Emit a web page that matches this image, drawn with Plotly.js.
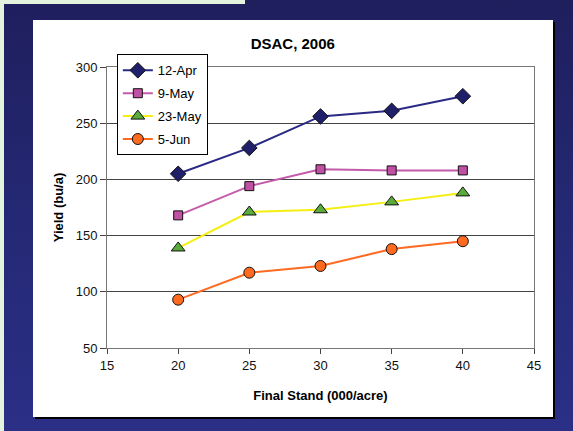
<!DOCTYPE html>
<html>
<head>
<meta charset="utf-8">
<script src="https://cdn.plot.ly/plotly-3.0.1.min.js"></script>
<style>
  html, body { margin: 0; padding: 0; }
  body { width: 573px; height: 431px; position: relative; overflow: hidden; background: #e3f3dd; }
  #navy { position: absolute; left: 4px; top: 4px; width: 569px; height: 427px;
          background: linear-gradient(to bottom, #1f1f5e 0%, #262a78 60%, #2b2f86 100%); }
  #navytop { position: absolute; left: 245px; top: 0; width: 328px; height: 4px; background: #1f1f5e; }
  #panel { position: absolute; left: 33px; top: 20px; width: 520px; height: 397px; background: #fff;
           box-shadow: 2px 2px 0 #000; }
  #chart { position: absolute; left: 0; top: 0; width: 573px; height: 431px; }
</style>
</head>
<body>
<div id="navy"></div>
<div id="navytop"></div>
<div id="panel"></div>
<div id="chart"></div>
<script>
const stand = [20, 25, 30, 35, 40];
const seriesNames = ['12-Apr', '9-May', '23-May', '5-Jun'];
const apr12 = [205, 228, 256, 261, 274];
const may9 = [168, 194, 209, 208, 208];
const may23 = [139, 171, 173, 180, 188];
const jun5 = [93, 117, 123, 138, 145];
const xTicks = [15, 20, 25, 30, 35, 40, 45];
const yTicks = [50, 100, 150, 200, 250, 300];

const styles = [
  {line: '#2a2a86', fill: '#1f1f6a', symbol: 'diamond', size: 12},
  {line: '#c45aaa', fill: '#c050a4', symbol: 'square', size: 9},
  {line: '#f5ee10', fill: '#5aac3a', symbol: 'triangle-up', size: 12},
  {line: '#ff6a22', fill: '#ff6a1e', symbol: 'circle', size: 11}
];
const values = [apr12, may9, may23, jun5];

const traces = values.map((v, i) => ({
  x: stand, y: v, name: seriesNames[i], type: 'scatter', mode: 'lines+markers',
  legendgroup: 'g' + i,
  line: {color: styles[i].line, width: 2},
  marker: {symbol: styles[i].symbol, size: styles[i].size, color: styles[i].fill,
           line: {color: '#111', width: 1}}
}));

const layout = {
  width: 573, height: 431,
  margin: {l: 107, r: 39, t: 67, b: 83},
  paper_bgcolor: 'rgba(0,0,0,0)',
  plot_bgcolor: '#ffffff',
  font: {family: 'Liberation Sans, Arial, sans-serif', size: 13, color: '#111'},
  title: {text: '<b>DSAC, 2006</b>', font: {size: 15, color: '#000'},
          xref: 'container', x: 0.511, xanchor: 'center', yref: 'container', y: 0.898, yanchor: 'middle'},
  showlegend: true,
  legend: {x: 0.023, y: 1.045, xanchor: 'left', yanchor: 'top', bgcolor: '#fff',
           bordercolor: '#000', borderwidth: 1, font: {size: 13, color: '#000'},
           tracegroupgap: 3, itemwidth: 30},
  xaxis: {
    range: [15, 45], tickvals: xTicks, ticktext: xTicks.map(String),
    showgrid: false, zeroline: false, showline: true, linecolor: '#777', linewidth: 1, mirror: true,
    ticks: 'outside', ticklen: 5, tickcolor: '#444',
    tickfont: {size: 13, color: '#111'},
    title: {text: '<b>Final Stand (000/acre)</b>', font: {size: 13, color: '#000'}, standoff: 19}
  },
  yaxis: {
    range: [50, 300], tickvals: yTicks, ticktext: yTicks.map(String),
    showgrid: true, gridcolor: '#444', gridwidth: 1, zeroline: false,
    showline: true, linecolor: '#777', linewidth: 1, mirror: true,
    ticks: 'outside', ticklen: 6, tickcolor: '#444',
    tickfont: {size: 13, color: '#111'},
    title: {text: '<b>Yield (bu/a)</b>', font: {size: 13, color: '#000'}, standoff: 9}
  }
};

Plotly.newPlot('chart', traces, layout, {displayModeBar: false, staticPlot: true});
</script>
</body>
</html>
